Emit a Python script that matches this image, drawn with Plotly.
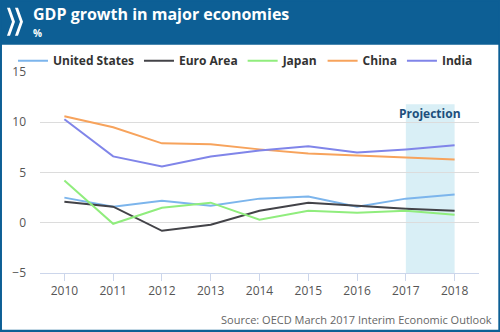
import plotly.graph_objects as go

years = [2010, 2011, 2012, 2013, 2014, 2015, 2016, 2017, 2018]
series_names = ["United States", "Euro Area", "Japan", "China", "India"]
us = [2.5, 1.6, 2.2, 1.7, 2.4, 2.6, 1.6, 2.4, 2.8]
euro = [2.1, 1.6, -0.8, -0.2, 1.2, 2.0, 1.7, 1.4, 1.2]
japan = [4.2, -0.1, 1.5, 2.0, 0.3, 1.2, 1.0, 1.2, 0.8]
china = [10.6, 9.5, 7.9, 7.8, 7.3, 6.9, 6.7, 6.5, 6.3]
india = [10.3, 6.6, 5.6, 6.6, 7.2, 7.6, 7.0, 7.3, 7.7]
colors = ["#7cb5ec", "#434348", "#90ed7d", "#f7a35c", "#8085e9"]
projection_years = [2017, 2018]
projection_top = 11.8
y_ticks = [-5, 0, 5, 10, 15]

W, H = 500, 332
L, R, T, B = 40, 478.7, 72.3, 273.3


def px(x):
    return (x - L) / (R - L)


def py(y):
    return (B - y) / (B - T)


fig = go.Figure()
for name, vals, c in zip(series_names, [us, euro, japan, china, india], colors):
    fig.add_trace(go.Scatter(x=years, y=vals, name=name, mode="lines",
                             line=dict(color=c, width=2)))

hdr = "#0d5f95"
shapes = [
    dict(type="rect", xref="x", yref="y", x0=projection_years[0], x1=projection_years[1],
         y0=-5, y1=projection_top, fillcolor="#d9eff6", line_width=0, layer="below"),
    dict(type="rect", xref="paper", yref="paper", x0=px(0), x1=px(W), y0=py(0), y1=py(45),
         fillcolor=hdr, line_width=0, layer="above"),
    dict(type="rect", xref="paper", yref="paper", x0=px(0.5), x1=px(W - 0.5), y0=py(0.5), y1=py(H - 0.5),
         fillcolor="rgba(0,0,0,0)", line=dict(color=hdr, width=3), layer="above"),
]


def chev(x0):
    pts = [(x0, 8), (x0 + 3, 8), (x0 + 8, 22), (x0 + 3, 36), (x0, 36), (x0 + 5, 22)]
    return "M" + " L".join(f"{px(a):.5f},{py(b):.5f}" for a, b in pts) + " Z"


for x0 in (7, 15):
    shapes.append(dict(type="path", xref="paper", yref="paper", path=chev(x0),
                       fillcolor="white", line_width=0, layer="above"))

annotations = [
    dict(text="<b>GDP growth in major economies</b>", xref="paper", yref="paper",
         x=px(31), y=py(14), xanchor="left", yanchor="middle", showarrow=False,
         font=dict(family="Open Sans", size=16, color="white")),
    dict(text="<b>%</b>", xref="paper", yref="paper", x=px(31), y=py(33),
         xanchor="left", yanchor="middle", showarrow=False,
         font=dict(family="Open Sans", size=10, color="white")),
    dict(text="<b>Projection</b>", xref="x", yref="y", x=sum(projection_years) / 2, y=projection_top,
         xanchor="center", yanchor="top", showarrow=False, yshift=1,
         font=dict(family="Open Sans", size=12, color="#1d4f7c")),
    dict(text="Source: OECD March 2017 Interim Economic Outlook", xref="paper", yref="paper",
         x=px(494), y=py(320), xanchor="right", yanchor="middle", showarrow=False,
         font=dict(family="Open Sans", size=11, color="#666666")),
]

fig.update_layout(
    width=W, height=H,
    margin=dict(l=L, r=W - R, t=T, b=H - B, pad=0),
    paper_bgcolor="white", plot_bgcolor="white",
    font=dict(family="Open Sans", color="#666666", size=12),
    showlegend=True,
    legend=dict(orientation="h", x=px(13), y=py(61), xanchor="left", yanchor="middle",
                font=dict(family="Open Sans", size=12, color="#333333", weight="bold"),
                itemwidth=30, bgcolor="rgba(0,0,0,0)", traceorder="normal"),
    shapes=shapes, annotations=annotations,
    xaxis=dict(range=[2009.5, 2018.5], tickvals=years, ticktext=[str(y) for y in years],
               showgrid=False, zeroline=False, showline=True, linecolor="#ccd6eb", linewidth=1,
               ticks="outside", ticklen=7, tickcolor="#ccd6eb", tickfont=dict(size=12, color="#555555"),
               fixedrange=True),
    yaxis=dict(range=[-5, 15], tickvals=y_ticks, showgrid=True, gridcolor="#dcdcdc", gridwidth=1,
               zeroline=False, showline=False, ticks="", ticklabelstandoff=13,
               tickfont=dict(size=12, color="#555555"), fixedrange=True),
)

fig.write_html("out.html")
